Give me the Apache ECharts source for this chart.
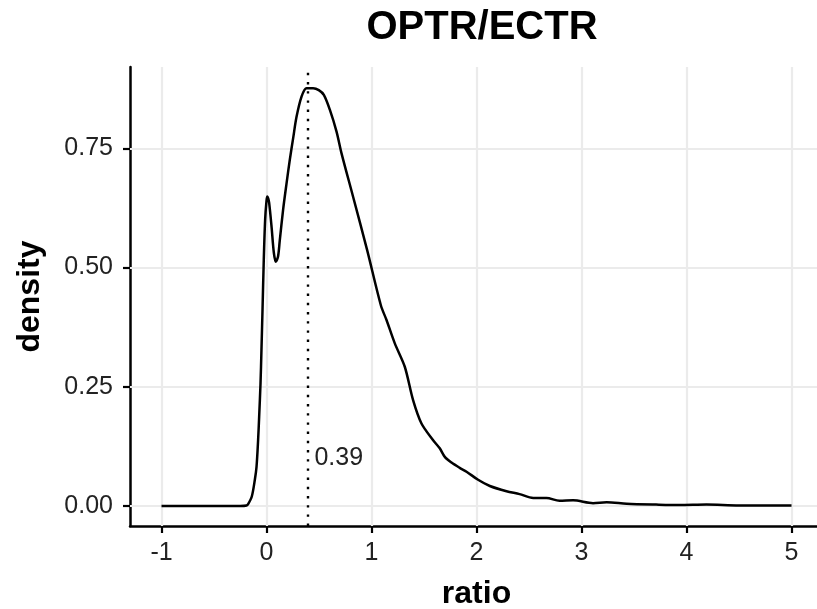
<!DOCTYPE html>
<html>
<head>
<meta charset="utf-8">
<script src="https://cdn.jsdelivr.net/npm/echarts@6/dist/echarts.min.js"></script>
<style>
html,body{margin:0;padding:0;background:#fff;}
#chart{width:817px;height:609px;}
</style>
</head>
<body>
<div id="chart"></div>
<script>
// Data
const ratioX = [-1, -0.5, -0.25, -0.19, -0.175, -0.14, -0.111, -0.095, -0.08, -0.07, -0.057, -0.048, -0.038, -0.026, -0.013, 0.0, 0.008, 0.016, 0.025, 0.048, 0.07, 0.089, 0.11, 0.127, 0.158, 0.19, 0.222, 0.255, 0.286, 0.333, 0.381, 0.444, 0.498, 0.546, 0.603, 0.667, 0.714, 0.824, 0.958, 1.089, 1.143, 1.222, 1.317, 1.396, 1.476, 1.587, 1.65, 1.698, 1.762, 1.84, 1.905, 2.015, 2.127, 2.286, 2.41, 2.54, 2.667, 2.79, 2.92, 3.11, 3.24, 3.43, 3.71, 3.93, 4.19, 4.5, 5.0];
const densityY = [0, 0, 0, 0.001, 0.004, 0.02, 0.055, 0.082, 0.138, 0.187, 0.257, 0.327, 0.411, 0.516, 0.6, 0.64, 0.649, 0.645, 0.636, 0.586, 0.531, 0.512, 0.523, 0.558, 0.621, 0.675, 0.726, 0.773, 0.816, 0.858, 0.876, 0.876, 0.872, 0.862, 0.831, 0.785, 0.740, 0.649, 0.537, 0.421, 0.39, 0.341, 0.292, 0.222, 0.173, 0.138, 0.121, 0.103, 0.091, 0.08, 0.072, 0.055, 0.042, 0.031, 0.025, 0.017, 0.017, 0.011, 0.012, 0.006, 0.008, 0.005, 0.003, 0.002, 0.003, 0.001, 0.001];
const xTicks = [-1, 0, 1, 2, 3, 4, 5];
const yTicks = [0, 0.25, 0.5, 0.75];
const medianValue = 0.39;
const medianLabelY = 0.1;
const titleText = 'OPTR/ECTR';
const xTitle = 'ratio';
const yTitle = 'density';

const FONT = '"Liberation Sans", Arial, Helvetica, sans-serif';
const chart = echarts.init(document.getElementById('chart'), null, {renderer: 'canvas'});

const curve = ratioX.map((x, i) => [x, densityY[i]]);
const gridLines = xTicks.map(v => ({xAxis: v})).concat(yTicks.map(v => ({yAxis: v})));

chart.setOption({
  animation: false,
  backgroundColor: '#ffffff',
  title: {
    text: titleText,
    left: 477,
    top: 3,
    textAlign: 'center',
    textStyle: {fontFamily: FONT, fontWeight: 'bold', fontSize: 40, color: '#000'}
  },
  grid: {left: 130, right: -6, top: 67, bottom: 83, containLabel: false, outerBoundsMode: 'none'},
  xAxis: {
    type: 'value',
    min: -1.3,
    max: 5.3,
    name: xTitle,
    nameLocation: 'middle',
    nameGap: 52,
    nameTextStyle: {fontFamily: FONT, fontWeight: 'bold', fontSize: 32, color: '#000'},
    axisLine: {show: true, onZero: false, lineStyle: {color: '#000', width: 2.5}},
    axisTick: {show: true, customValues: xTicks, length: 7, lineStyle: {color: '#000', width: 2.2}},
    axisLabel: {show: true, customValues: xTicks, margin: 15, fontFamily: FONT, fontSize: 25, color: '#222',
      formatter: v => String(v)},
    splitLine: {show: false}
  },
  yAxis: {
    type: 'value',
    min: -0.0419,
    max: 0.9205,
    name: yTitle,
    nameLocation: 'middle',
    nameGap: 84,
    nameRotate: 90,
    nameTextStyle: {fontFamily: FONT, fontWeight: 'bold', fontSize: 32, color: '#000'},
    axisLine: {show: true, onZero: false, lineStyle: {color: '#000', width: 2.5}},
    axisTick: {show: true, customValues: yTicks, length: 7, lineStyle: {color: '#000', width: 2.2}},
    axisLabel: {show: true, customValues: yTicks, margin: 17, fontFamily: FONT, fontSize: 25, color: '#222',
      formatter: v => Number(v).toFixed(2)},
    splitLine: {show: false}
  },
  series: [
    {
      type: 'line',
      name: 'grid',
      data: [],
      z: 1,
      silent: true,
      markLine: {
        z: 1,
        silent: true,
        symbol: ['none', 'none'],
        label: {show: false},
        emphasis: {disabled: true},
        lineStyle: {color: '#ebebeb', width: 2.2, type: 'solid'},
        data: gridLines,
        animation: false
      }
    },
    {
      type: 'line',
      name: 'median',
      data: [],
      z: 2,
      silent: true,
      markLine: {
        z: 2,
        silent: true,
        symbol: ['none', 'none'],
        label: {show: false},
        emphasis: {disabled: true},
        lineStyle: {color: '#000', width: 2.4, type: [2.4, 6.8], cap: 'butt'},
        data: [{xAxis: medianValue}],
        animation: false
      }
    },
    {
      type: 'line',
      name: 'density',
      data: curve,
      z: 3,
      smooth: 0.3,
      showSymbol: false,
      symbol: 'none',
      lineStyle: {color: '#000', width: 2.5},
      markPoint: {
        z: 4,
        silent: true,
        symbol: 'circle',
        symbolSize: 0,
        data: [{coord: [medianValue, medianLabelY], value: medianValue}],
        label: {show: true, position: 'right', distance: 7, formatter: () => medianValue.toFixed(2),
          fontFamily: FONT, fontSize: 25, color: '#222'},
        animation: false
      }
    }
  ]
});
</script>
</body>
</html>
